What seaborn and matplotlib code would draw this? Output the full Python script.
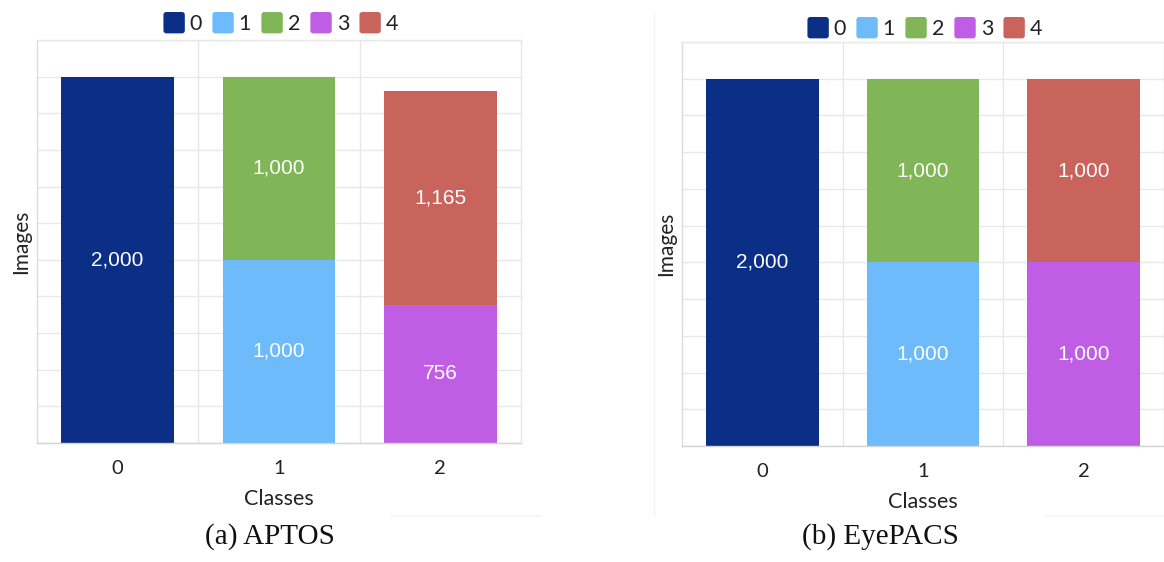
import numpy as np
import matplotlib
matplotlib.use("Agg")
import matplotlib.pyplot as plt
from matplotlib.patches import Patch, FancyBboxPatch
from matplotlib.legend_handler import HandlerPatch
from matplotlib.lines import Line2D
import seaborn as sns

sns.set_theme(style="white")
plt.rcParams["font.family"] = ["Lato", "DejaVu Sans"]

# x categories and stacked series
classes = ["0", "1", "2"]
series_names = ["0", "1", "2", "3", "4"]
series_colors = ["#0b2f86", "#6dbbfa", "#80b657", "#bf5de4", "#c8645c"]

# APTOS counts per series (one value per x category)
aptos_0 = [2000, 0, 0]
aptos_1 = [0, 1000, 0]
aptos_2 = [0, 1000, 0]
aptos_3 = [0, 0, 756]
aptos_4 = [0, 0, 1165]

# EyePACS counts per series
eyepacs_0 = [2000, 0, 0]
eyepacs_1 = [0, 1000, 0]
eyepacs_2 = [0, 1000, 0]
eyepacs_3 = [0, 0, 1000]
eyepacs_4 = [0, 0, 1000]

panels = [
    ("(a) APTOS", [aptos_0, aptos_1, aptos_2, aptos_3, aptos_4]),
    ("(b) EyePACS", [eyepacs_0, eyepacs_1, eyepacs_2, eyepacs_3, eyepacs_4]),
]


class RoundedSquareHandler(HandlerPatch):
    """Legend key drawn as a small rounded square."""

    def create_artists(self, legend, orig_handle, xdescent, ydescent,
                       width, height, fontsize, trans):
        side = min(width, height)
        p = FancyBboxPatch((-xdescent + (width - side) / 2, -ydescent + (height - side) / 2),
                           side, side, boxstyle="round,pad=0,rounding_size=2",
                           facecolor=orig_handle.get_facecolor(), edgecolor="none",
                           transform=trans)
        return [p]


W, H = 1164, 562
fig = plt.figure(figsize=(W / 100, H / 100), dpi=100)

# axes rectangles in pixels: left, top, right, bottom
boxes = [(37, 40, 521, 443), (682, 42, 1164, 446)]
legend_y = [23, 28]
caption_x = [270, 880]

grid_c = "#e8e8e8"
text_c = "#222222"

for (caption, stack), (l, t, r, b), ly, cx in zip(panels, boxes, legend_y, caption_x):
    ax = fig.add_axes([l / W, 1 - b / H, (r - l) / W, (b - t) / H])
    bottom = np.zeros(len(classes))
    for name, vals, col in zip(series_names, stack, series_colors):
        sns.barplot(x=classes, y=vals, order=classes, color=col, saturation=1,
                    width=0.7, bottom=bottom, linewidth=0, ax=ax)
        for i, v in enumerate(vals):
            if v > 0:
                ax.text(i, bottom[i] + v / 2, f"{v:,}", ha="center", va="center",
                        color="white", fontsize=15, family=["Liberation Sans"])
        bottom = bottom + np.array(vals)

    ax.set_xlim(-0.5, 2.5)
    ax.set_ylim(0, 2200)
    ax.set_yticks(np.arange(0, 2201, 200))
    ax.set_yticklabels([])
    ax.set_xticks([0, 1, 2])
    ax.set_xticklabels(classes)
    ax.set_xticks([0.5, 1.5], minor=True)
    ax.grid(True, axis="y", which="major", color=grid_c, linewidth=1)
    ax.grid(True, axis="x", which="minor", color=grid_c, linewidth=1)
    ax.set_axisbelow(True)
    ax.tick_params(axis="both", which="both", length=0)
    ax.tick_params(axis="x", pad=12, labelsize=14.5, labelcolor=text_c)
    for s in ax.spines.values():
        s.set_color(grid_c)
        s.set_linewidth(1)
    ax.spines["bottom"].set_color("#d4d4d4")
    ax.spines["left"].set_color("#dcdcdc")

    ax.set_xlabel("Classes", fontsize=15.5, color=text_c, labelpad=9)
    ax.set_ylabel("Images", fontsize=15, color=text_c, labelpad=1)

    handles = [Patch(facecolor=c, edgecolor="none") for c in series_colors]
    fig.legend(handles, series_names, loc="center", ncol=5, frameon=False,
               bbox_to_anchor=(((l + r) / 2 + 1) / W, 1 - ly / H),
               fontsize=15.5, handlelength=1.15, handleheight=1.15,
               handletextpad=0.15, columnspacing=0.4, labelcolor=text_c,
               handler_map={Patch: RoundedSquareHandler()})

    fig.text(cx / W, 1 - 537 / H, caption, ha="center", va="center",
             fontsize=21, family=["Liberation Serif"], color="#111111")

# faint outlines of the chart containers
fig.add_artist(Line2D([654 / W, 654 / W], [1 - 14 / H, 1 - 516 / H],
                      transform=fig.transFigure, color="#f4f4f4", linewidth=1))
fig.add_artist(Line2D([1045 / W, 1], [1 - 516 / H, 1 - 516 / H],
                      transform=fig.transFigure, color="#f5f5f5", linewidth=1.5))
fig.add_artist(Line2D([392 / W, 540 / W], [1 - 516 / H, 1 - 516 / H],
                      transform=fig.transFigure, color="#f5f5f5", linewidth=1.5))

fig.savefig("out.png", dpi=100)
